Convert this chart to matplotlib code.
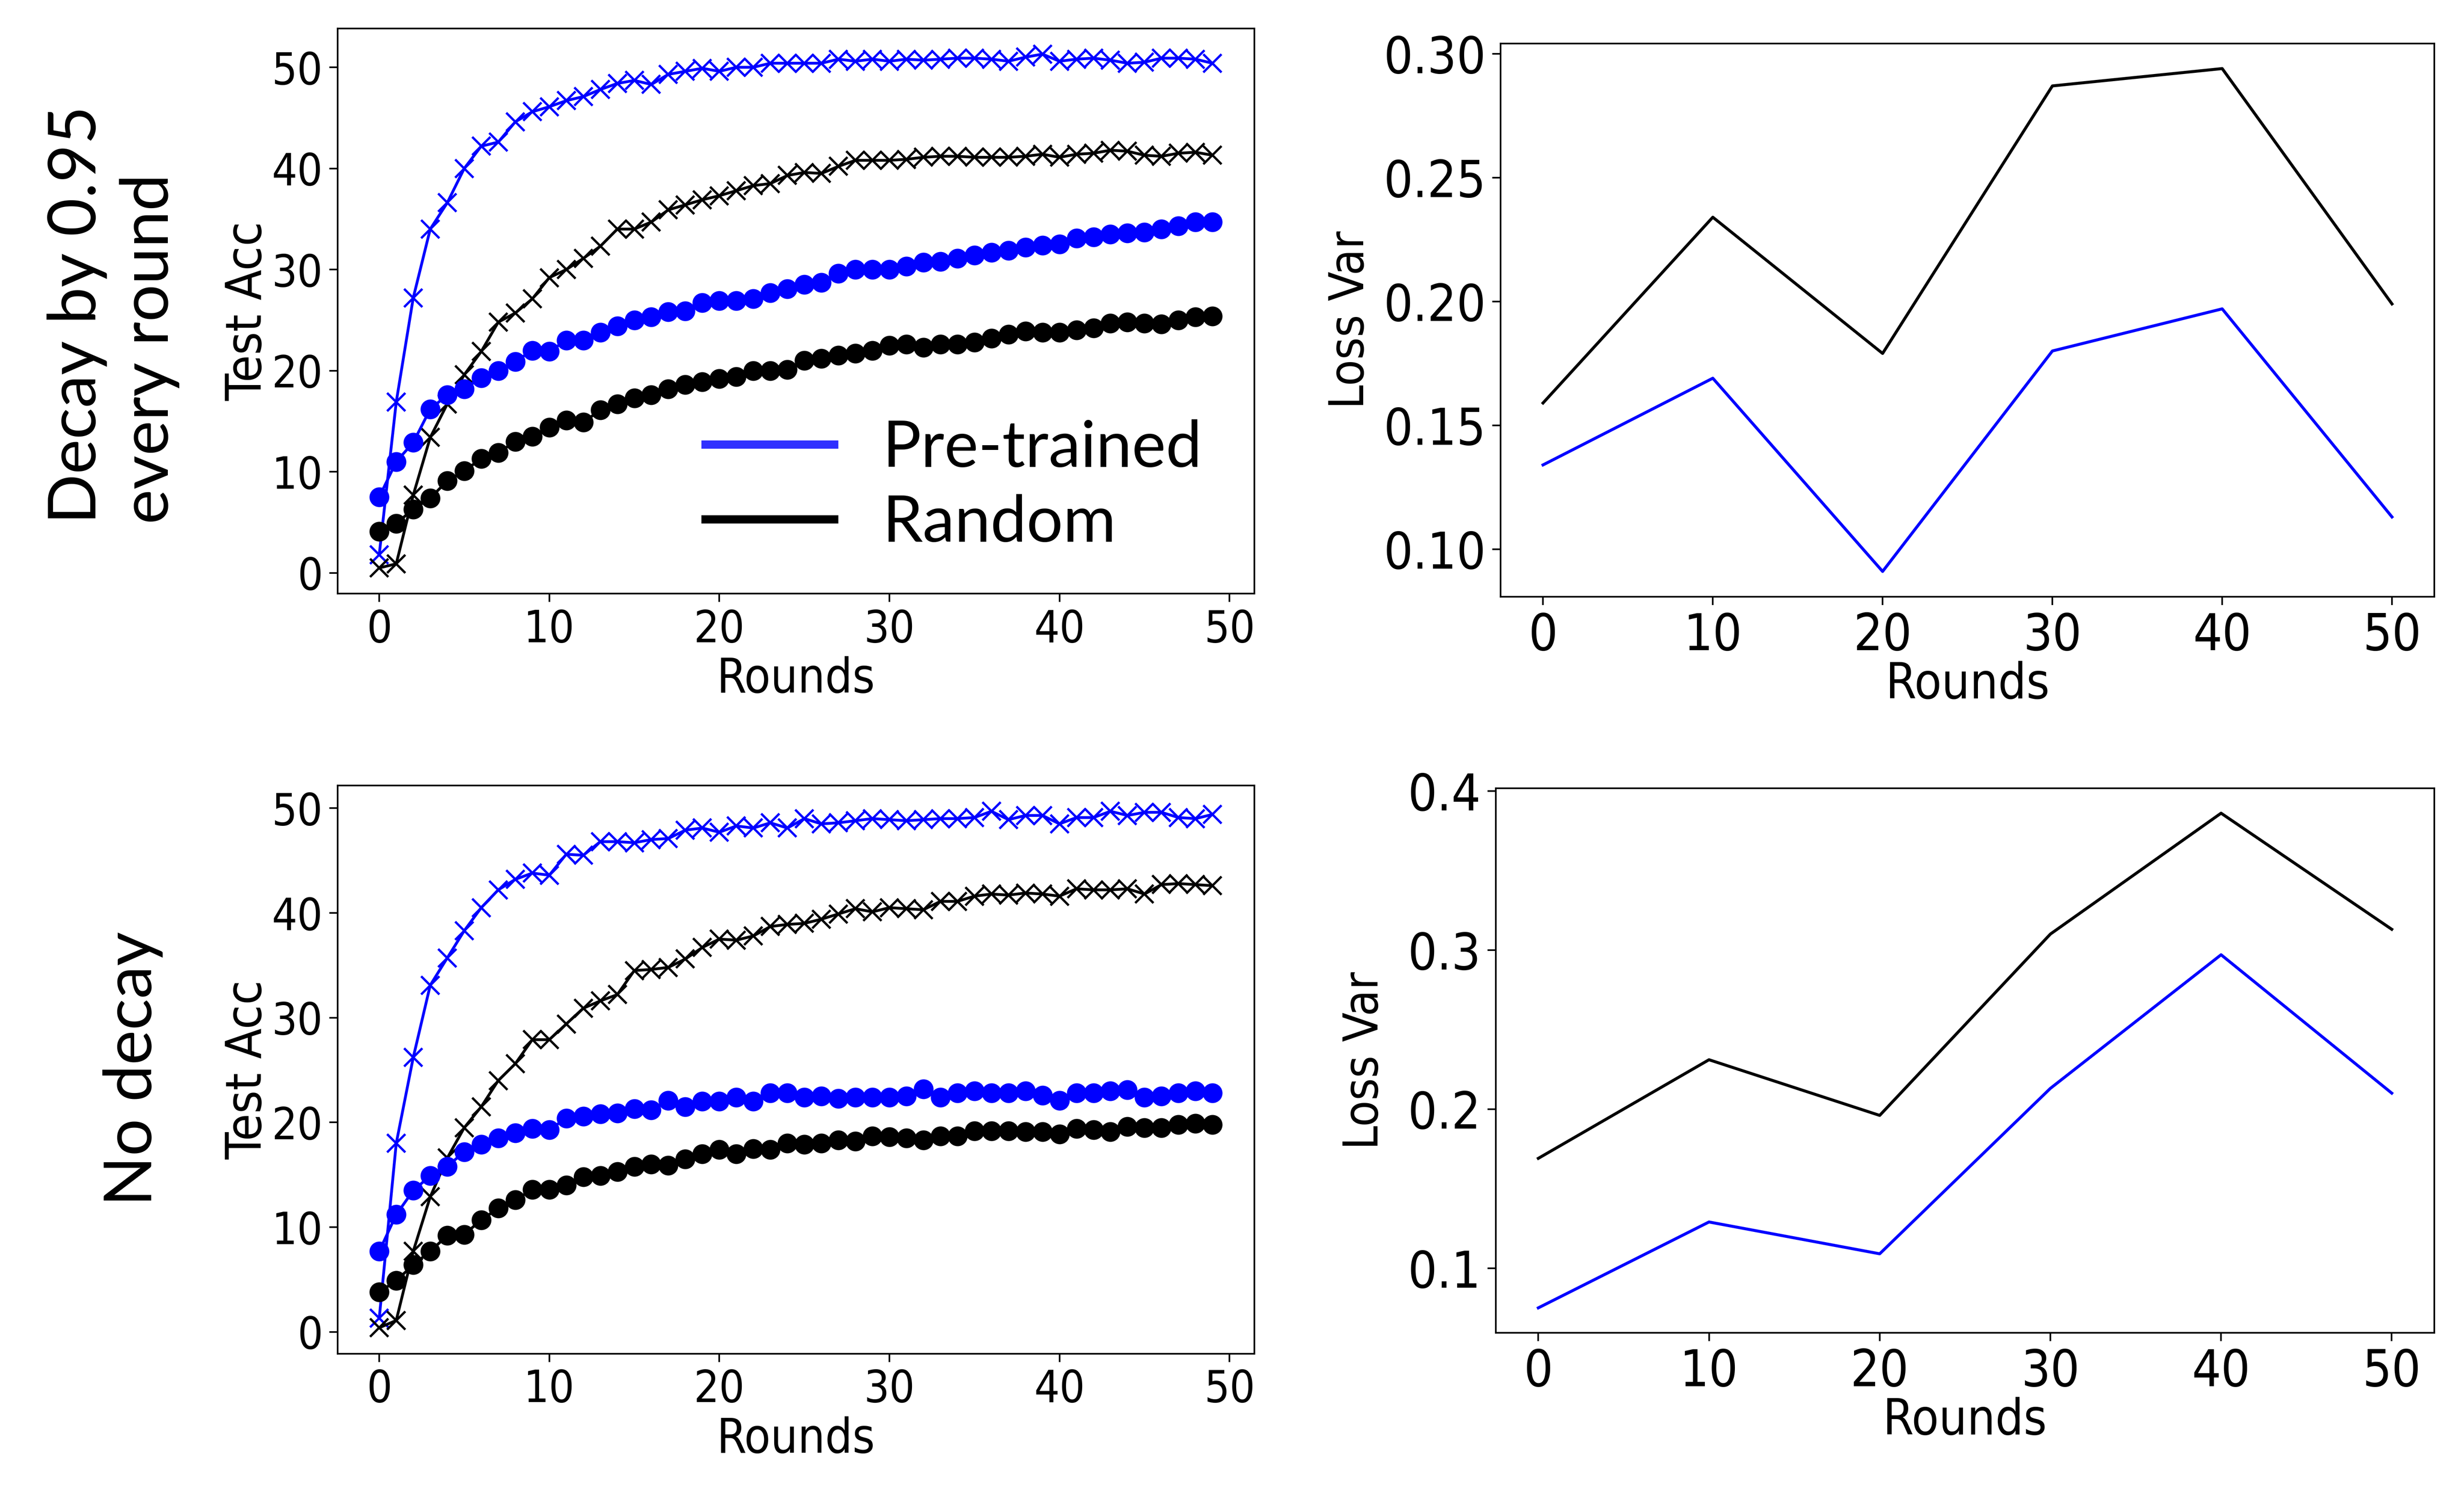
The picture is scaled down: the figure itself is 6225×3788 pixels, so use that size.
import numpy as np
import matplotlib
matplotlib.use("Agg")
import matplotlib.pyplot as plt
from matplotlib.lines import Line2D

# ---- data ----
rounds = np.arange(50)

# decay by 0.95 every round
decay_pre_x = [1.8, 16.9, 27.2, 34.0, 36.6, 40.0, 42.2, 42.6, 44.6, 45.6,
               46.1, 46.7, 47.1, 47.8, 48.4, 48.7, 48.3, 49.3, 49.6, 49.9,
               49.6, 50.0, 50.0, 50.4, 50.4, 50.4, 50.4, 50.8, 50.6, 50.8,
               50.6, 50.8, 50.7, 50.8, 50.9, 50.9, 50.8, 50.6, 51.0, 51.3,
               50.6, 50.8, 50.9, 50.7, 50.4, 50.5, 50.9, 50.9, 50.8, 50.4]
decay_rand_x = [0.5, 0.9, 7.7, 13.4, 16.7, 19.6, 21.9, 24.8, 25.7, 27.1,
                29.2, 30.0, 31.1, 32.3, 34.0, 34.0, 34.7, 35.9, 36.4, 36.9,
                37.3, 37.8, 38.3, 38.5, 39.3, 39.6, 39.5, 40.2, 40.8, 40.8,
                40.8, 40.9, 41.1, 41.2, 41.2, 41.1, 41.1, 41.1, 41.2, 41.4,
                41.1, 41.4, 41.5, 41.8, 41.7, 41.3, 41.2, 41.5, 41.6, 41.3]
decay_pre_o = [7.5, 11.0, 12.9, 16.2, 17.6, 18.2, 19.3, 20.0, 20.9, 22.0,
               21.9, 23.0, 23.0, 23.8, 24.4, 25.0, 25.3, 25.8, 25.9, 26.7,
               26.9, 26.9, 27.1, 27.7, 28.1, 28.5, 28.7, 29.6, 30.0, 30.0,
               30.0, 30.3, 30.7, 30.8, 31.1, 31.4, 31.7, 31.9, 32.2, 32.4,
               32.5, 33.1, 33.2, 33.5, 33.6, 33.7, 34.0, 34.3, 34.7, 34.7]
decay_rand_o = [4.1, 4.9, 6.3, 7.4, 9.1, 10.1, 11.3, 11.9, 13.0, 13.5,
                14.4, 15.1, 14.9, 16.1, 16.7, 17.3, 17.6, 18.2, 18.6, 18.9,
                19.2, 19.4, 20.0, 20.0, 20.1, 21.0, 21.2, 21.5, 21.7, 22.0,
                22.5, 22.6, 22.3, 22.6, 22.6, 22.8, 23.2, 23.6, 23.9, 23.8,
                23.8, 24.0, 24.2, 24.7, 24.8, 24.7, 24.6, 25.0, 25.3, 25.4]

# no decay
nodecay_pre_x = [1.3, 18.0, 26.2, 33.1, 35.7, 38.3, 40.5, 42.2, 43.2, 43.8,
                 43.6, 45.6, 45.5, 46.8, 46.8, 46.7, 47.0, 47.1, 47.9, 48.1,
                 47.7, 48.3, 48.1, 48.6, 48.1, 49.0, 48.5, 48.6, 48.8, 49.0,
                 48.9, 48.8, 48.9, 49.0, 49.0, 49.1, 49.7, 48.9, 49.3, 49.3,
                 48.5, 49.1, 49.1, 49.7, 49.3, 49.6, 49.6, 49.1, 49.0, 49.4]
nodecay_rand_x = [0.4, 1.1, 7.7, 12.9, 16.6, 19.5, 21.5, 24.0, 25.6, 27.9,
                  27.9, 29.4, 30.9, 31.6, 32.2, 34.5, 34.6, 34.8, 35.6, 36.7,
                  37.5, 37.4, 37.8, 38.7, 38.9, 39.0, 39.4, 39.9, 40.4, 40.1,
                  40.5, 40.4, 40.3, 41.1, 41.1, 41.6, 41.8, 41.7, 41.9, 41.8,
                  41.6, 42.3, 42.2, 42.2, 42.3, 41.8, 42.7, 42.8, 42.7, 42.6]
nodecay_pre_o = [7.7, 11.2, 13.5, 14.9, 15.8, 17.2, 17.9, 18.5, 19.0, 19.4,
                 19.3, 20.4, 20.6, 20.8, 20.9, 21.3, 21.2, 22.1, 21.5, 22.0,
                 22.0, 22.4, 22.0, 22.8, 22.8, 22.4, 22.5, 22.3, 22.4, 22.4,
                 22.4, 22.5, 23.2, 22.4, 22.8, 23.0, 22.8, 22.8, 23.0, 22.6,
                 22.1, 22.8, 22.8, 23.0, 23.1, 22.4, 22.5, 22.8, 23.0, 22.8]
nodecay_rand_o = [3.8, 4.9, 6.4, 7.7, 9.2, 9.3, 10.7, 11.8, 12.6, 13.6,
                  13.6, 14.0, 14.8, 14.9, 15.3, 15.8, 16.0, 15.9, 16.5, 17.0,
                  17.4, 17.0, 17.5, 17.4, 18.0, 17.9, 18.0, 18.3, 18.2, 18.7,
                  18.6, 18.5, 18.3, 18.7, 18.7, 19.2, 19.2, 19.2, 19.1, 19.1,
                  18.9, 19.4, 19.3, 19.1, 19.6, 19.5, 19.5, 19.8, 19.9, 19.8]

# loss variance, sampled every 10 rounds
var_rounds = [0, 10, 20, 30, 40, 50]
decay_var_pre = [0.134, 0.169, 0.091, 0.180, 0.197, 0.113]
decay_var_rand = [0.159, 0.234, 0.179, 0.287, 0.294, 0.199]
nodecay_var_pre = [0.075, 0.129, 0.109, 0.213, 0.297, 0.210]
nodecay_var_rand = [0.169, 0.231, 0.196, 0.310, 0.386, 0.313]

row_labels = ["Decay by 0.95\nevery round", "No decay"]
legend_labels = ["Pre-trained", "Random"]

# ---- styling ----
plt.rcParams['font.family'] = ['DejaVu Sans']
plt.rcParams['font.stretch'] = 'condensed'
plt.rcParams['axes.linewidth'] = 1.0
plt.rcParams['xtick.major.width'] = 1.0
plt.rcParams['ytick.major.width'] = 1.0
plt.rcParams['xtick.major.size'] = 5
plt.rcParams['ytick.major.size'] = 5

BLUE = '#0000ff'
ROW_FONT = ['Lato', 'DejaVu Sans']

fig = plt.figure(figsize=(20.75, 12.627), dpi=300)

ax_tl = fig.add_axes([0.137, 0.604, 0.372, 0.377])
ax_tr = fig.add_axes([0.609, 0.602, 0.379, 0.369])
ax_bl = fig.add_axes([0.137, 0.097, 0.372, 0.379])
ax_br = fig.add_axes([0.607, 0.111, 0.381, 0.363])


def acc_panel(ax, pre_x, rand_x, pre_o, rand_o):
    ax.plot(rounds, pre_x, color=BLUE, marker='x', markersize=11,
            markeredgewidth=1.4, linewidth=1.7)
    ax.plot(rounds, rand_x, color='black', marker='x', markersize=11,
            markeredgewidth=1.4, linewidth=1.7)
    ax.plot(rounds, pre_o, color=BLUE, marker='o', markersize=11, linewidth=1.7)
    ax.plot(rounds, rand_o, color='black', marker='o', markersize=11, linewidth=1.7)
    ax.set_xticks([0, 10, 20, 30, 40, 50])
    ax.set_yticks([0, 10, 20, 30, 40, 50])
    ax.tick_params(labelsize=27, pad=4)
    ax.set_xlabel("Rounds", fontsize=29, labelpad=3)
    ax.set_ylabel("Test Acc", fontsize=30, labelpad=0)


def var_panel(ax, pre, rand, ticks):
    ax.plot(var_rounds, rand, color='black', linewidth=1.8)
    ax.plot(var_rounds, pre, color=BLUE, linewidth=1.8)
    ax.set_xticks(var_rounds)
    ax.set_yticks(ticks)
    ax.tick_params(labelsize=31, pad=4)
    ax.set_xlabel("Rounds", fontsize=30, labelpad=0)
    ax.set_ylabel("Loss Var", fontsize=29, labelpad=6)


acc_panel(ax_tl, decay_pre_x, decay_rand_x, decay_pre_o, decay_rand_o)
acc_panel(ax_bl, nodecay_pre_x, nodecay_rand_x, nodecay_pre_o, nodecay_rand_o)
var_panel(ax_tr, decay_var_pre, decay_var_rand, [0.10, 0.15, 0.20, 0.25, 0.30])
ax_tr.yaxis.set_major_formatter(matplotlib.ticker.FormatStrFormatter('%.2f'))
var_panel(ax_br, nodecay_var_pre, nodecay_var_rand, [0.1, 0.2, 0.3, 0.4])
ax_br.yaxis.labelpad = 12

handles = [Line2D([], [], color='#3030ff', linewidth=5),
           Line2D([], [], color='black', linewidth=5)]
ax_tl.legend(handles, legend_labels, loc='lower right',
             bbox_to_anchor=(0.978, 0.015), frameon=False,
             prop={'family': ROW_FONT, 'size': 39},
             handlelength=2.0, handletextpad=0.75, labelspacing=0.25,
             borderpad=0)

fig.text(0.046, 0.79, row_labels[0], rotation=90, ha='center', va='center',
         multialignment='left', fontsize=40, family=ROW_FONT, linespacing=1.25)
fig.text(0.054, 0.287, row_labels[1], rotation=90, ha='center', va='center',
         fontsize=40, family=ROW_FONT)

fig.savefig("out.png", dpi=300)
